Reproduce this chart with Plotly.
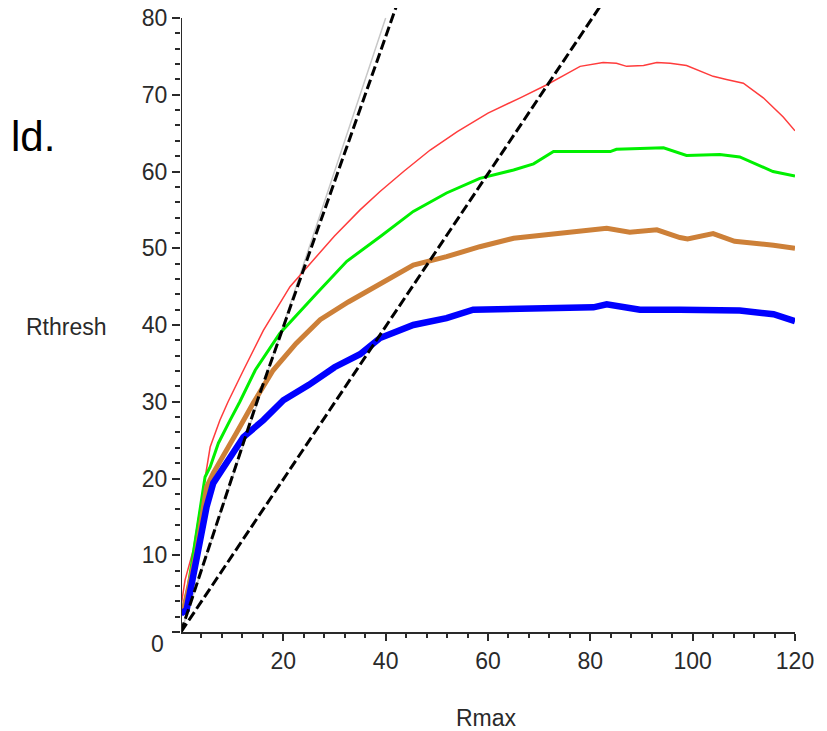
import plotly.graph_objects as go

# ---- data ----
red_x = [0, 0.8, 2.4, 4, 4.7, 5.7, 7.6, 9.2, 12.2, 16.1, 21.3, 25.9, 30, 35, 38.9, 43.5, 48.7, 54, 60,
         66.3, 71.5, 75, 78, 82.5, 85.1, 87.1, 90.4, 93, 95.6, 98.8, 104, 106.6, 109.9, 113.8, 117.7, 120]
red_y = [3.3, 6.8, 10.7, 17.2, 19.8, 24.1, 27.6, 30, 34.1, 39.3, 45, 48.5, 51.6, 55, 57.4, 60, 62.8, 65.2, 67.6,
         69.6, 71.3, 72.6, 73.7, 74.2, 74.1, 73.7, 73.8, 74.2, 74.1, 73.8, 72.4, 72, 71.5, 69.6, 67.1, 65.3]

green_x = [0, 0.5, 1.4, 3, 4.7, 5.7, 7.3, 9.6, 11.5, 14.5, 19.3, 26.5, 32.4, 38.9, 45.4, 51.9, 58.4, 65,
           68.9, 72.8, 83.9, 85.1, 91, 94.3, 98.8, 105.3, 109.2, 115.7, 120]
green_y = [3.0, 3.3, 5.9, 12.9, 20.2, 21.5, 24.6, 27.6, 30, 34.1, 38.9, 44.1, 48.3, 51.5, 54.8, 57.2, 59.1, 60.2,
           61, 62.6, 62.6, 62.9, 63, 63.1, 62.1, 62.2, 61.9, 60, 59.4]

brown_x = [0, 0.5, 3, 5, 6.3, 8.2, 10.8, 14.1, 18, 22.5, 27.2, 32.7, 38.9, 45.4, 51.9, 58.4, 65, 74.7,
           83.2, 87.7, 93, 97.5, 99, 104, 108.2, 115.8, 120]
brown_y = [2.7, 2.9, 10.3, 18.9, 20.7, 22.8, 25.9, 29.8, 34.1, 37.6, 40.7, 43, 45.4, 47.8, 48.9, 50.2, 51.3, 52,
           52.6, 52.1, 52.4, 51.4, 51.2, 51.9, 50.9, 50.4, 50]

blue_x = [0, 1.1, 3, 5, 6.3, 8.9, 12.2, 16.1, 20, 25, 30, 35, 38.9, 45.4, 51.9, 57.1, 68.2, 80.6, 83.2,
          85.8, 89.7, 97.5, 109.2, 115.8, 120]
blue_y = [2.4, 2.9, 9.4, 16.3, 19.4, 22, 25.4, 27.6, 30.2, 32.2, 34.5, 36.2, 38.3, 40, 40.9, 42, 42.1, 42.3, 42.7,
          42.4, 42, 42, 41.9, 41.4, 40.5]

steep_x = [0, 15, 42.5]
steep_y = [0, 30.3, 82.3]
unit_x = [0, 82.7]
unit_y = [0, 82.3]
grey_x = [0, 40]
grey_y = [0, 80]

x_ticks = [20, 40, 60, 80, 100, 120]
y_ticks = [0, 10, 20, 30, 40, 50, 60, 70, 80]
y_ticklabels = ["", "10", "20", "30", "40", "50", "60", "70", "80"]
x_minor = [v for v in range(4, 120, 4) if v % 20]
y_minor = [v for v in range(2, 80, 2) if v % 10]

FONT = "Liberation Sans, Arial, sans-serif"
INK = "#2a2a2a"

fig = go.Figure()
fig.add_trace(go.Scatter(x=grey_x, y=grey_y, mode="lines", line=dict(color="#c8c8c8", width=1.5),
                         hoverinfo="skip", showlegend=False))
fig.add_trace(go.Scatter(x=red_x, y=red_y, mode="lines", line=dict(color="#ff3c3c", width=1.5), showlegend=False))
fig.add_trace(go.Scatter(x=green_x, y=green_y, mode="lines", line=dict(color="#00f000", width=3), showlegend=False))
fig.add_trace(go.Scatter(x=brown_x, y=brown_y, mode="lines", line=dict(color="#cd8038", width=5), showlegend=False))
fig.add_trace(go.Scatter(x=blue_x, y=blue_y, mode="lines", line=dict(color="#0000ff", width=6.5), showlegend=False))
fig.add_trace(go.Scatter(x=steep_x, y=steep_y, mode="lines",
                         line=dict(color="black", width=3, dash="10px,4px"), showlegend=False))
fig.add_trace(go.Scatter(x=unit_x, y=unit_y, mode="lines",
                         line=dict(color="black", width=3, dash="10px,4px"), showlegend=False))

# the page body has an 8px margin: work in page pixels and shift by OFF
OFF = 8
W, H = 827 - OFF, 731 - OFF
L = 181 - OFF
T = 0
B = H - (632 - OFF)
R = W - (795 - OFF)
pw, ph = W - L - R, H - T - B
ymax = ph / 7.675

fig.update_layout(
    width=W, height=H,
    margin=dict(l=L, r=R, t=T, b=B, pad=0, autoexpand=False),
    paper_bgcolor="white", plot_bgcolor="white",
    font=dict(family=FONT, size=23, color=INK),
    xaxis=dict(range=[0, 120], showgrid=False, zeroline=False, showline=True, linecolor=INK, linewidth=2,
               automargin=False, ticklabeloverflow="allow",
               tickmode="array", tickvals=x_ticks, ticks="outside", ticklen=7, tickwidth=1.5, tickcolor=INK,
               tickfont=dict(size=23, color=INK, family=FONT),
               minor=dict(tickmode="array", tickvals=x_minor, ticks="outside", ticklen=4, tickwidth=1.5,
                          tickcolor=INK, showgrid=False)),
    yaxis=dict(range=[0, ymax], showgrid=False, zeroline=False, showline=False, automargin=False,
               ticklabeloverflow="allow",
               tickmode="array", tickvals=y_ticks, ticktext=y_ticklabels, ticks="outside", ticklen=8,
               tickwidth=1.5, tickcolor=INK, tickfont=dict(size=23, color=INK, family=FONT),
               minor=dict(tickmode="array", tickvals=y_minor, ticks="outside", ticklen=5, tickwidth=1.5,
                          tickcolor=INK, showgrid=False)),
)

# y axis line only up to 80
fig.add_shape(type="line", xref="x", yref="y", x0=0, x1=0, y0=0, y1=80,
              line=dict(color=INK, width=2), layer="above")

def px_x(p):
    return (p - OFF - L) / pw

def px_y(p):
    return (H - B - (p - OFF)) / ph

fig.add_annotation(text="0", xref="paper", yref="paper", x=px_x(166), y=px_y(644), xanchor="right",
                   yanchor="middle", showarrow=False, font=dict(size=23, color=INK, family=FONT))
fig.add_annotation(text="Rthresh", xref="paper", yref="paper", x=px_x(109), y=px_y(327), xanchor="right",
                   yanchor="middle", showarrow=False, font=dict(size=23, color=INK, family=FONT))
fig.add_annotation(text="Rmax", xref="paper", yref="paper", x=px_x(486), y=px_y(718), xanchor="center",
                   yanchor="middle", showarrow=False, font=dict(size=23, color=INK, family=FONT))
fig.add_annotation(text="ld.", xref="paper", yref="paper", x=px_x(OFF + 1), y=px_y(136), xanchor="left",
                   yanchor="middle", showarrow=False, font=dict(size=42, color="black", family=FONT))

fig.write_html("out.html")
